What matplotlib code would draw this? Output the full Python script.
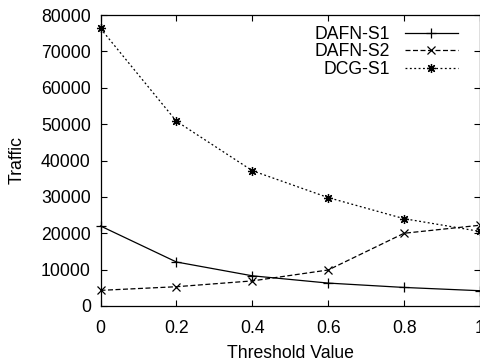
import matplotlib
matplotlib.use("Agg")
import matplotlib.pyplot as plt

thresholds = [0, 0.2, 0.4, 0.6, 0.8, 1.0]
dafn_s1 = [22000, 12100, 8300, 6300, 5100, 4200]
dafn_s2 = [4300, 5300, 6900, 9900, 20000, 22200]
dcg_s1 = [76300, 50800, 37200, 29800, 24000, 20500]
series_names = ["DAFN-S1", "DAFN-S2", "DCG-S1"]
x_tick_labels = ["0", "0.2", "0.4", "0.6", "0.8", "1"]

plt.rcParams['font.family'] = ['Liberation Sans', 'DejaVu Sans']
FS = 12.7
plt.rcParams['font.size'] = FS

fig = plt.figure(figsize=(4.81, 3.63), dpi=100)
ax = fig.add_axes([100.5 / 481, 1 - 306 / 363, 379.5 / 481, 291 / 363])

ax.plot(thresholds, dafn_s1, color='black', lw=0.9, ls='-', marker='+',
        markersize=7, markeredgewidth=0.9, label=series_names[0], clip_on=False)
ax.plot(thresholds, dafn_s2, color='black', lw=0.9, ls=(0, (4, 2)), marker='x',
        markersize=5.5, markeredgewidth=0.9, label=series_names[1], clip_on=False)
ax.plot(thresholds, dcg_s1, color='black', lw=0.9, ls=(0, (1.5, 2)), marker=(8, 2, 0),
        markersize=6.5, markeredgewidth=0.9, label=series_names[2], clip_on=False)

ax.set_xlim(0, 1)
ax.set_ylim(0, 80000)
ax.set_xticks(thresholds)
ax.set_xticklabels(x_tick_labels)
ax.set_yticks(range(0, 80001, 10000))
ax.tick_params(direction='in', top=True, right=True, length=4, width=0.8, labelsize=FS)
ax.tick_params(axis='x', pad=10)
ax.tick_params(axis='y', pad=7)
for s in ax.spines.values():
    s.set_linewidth(0.9)

ax.set_xlabel("Threshold Value", fontsize=FS, labelpad=6)
ax.set_ylabel("Traffic", fontsize=FS, labelpad=11)

leg = ax.legend(loc='upper right', bbox_to_anchor=(0.96, 0.986), frameon=False,
                markerfirst=False, handlelength=3.0, handletextpad=0.85,
                labelspacing=0.02, borderaxespad=0.0, borderpad=0.4, fontsize=FS)

fig.savefig("out.png", dpi=100)
